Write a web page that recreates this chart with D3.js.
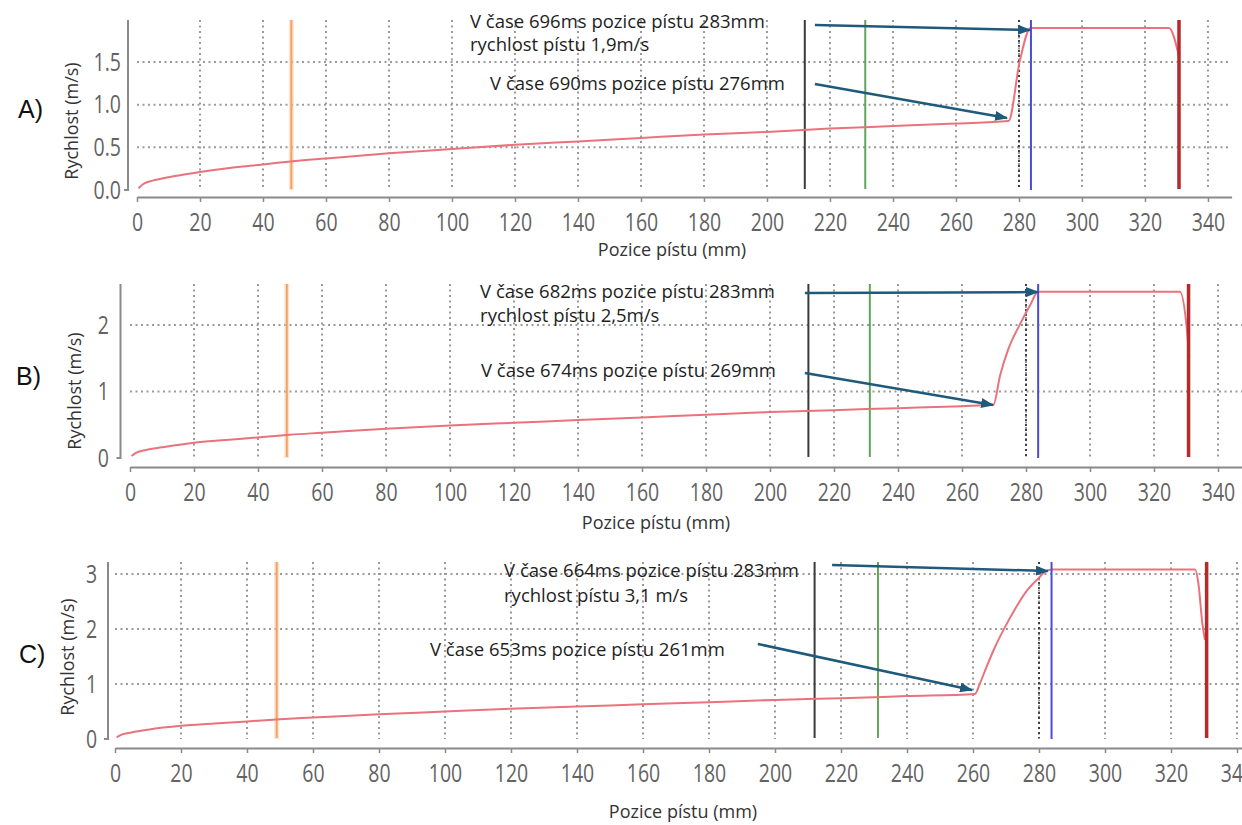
<!DOCTYPE html>
<html>
<head>
<meta charset="utf-8">
<script src="https://cdn.jsdelivr.net/npm/d3@7"></script>
<style>
  body { margin: 0; background: #fff; }
  svg { display: block; }
</style>
</head>
<body>
<svg id="chart" width="1242" height="825"></svg>
<script>
// ---- data (position in mm, velocity in m/s) ----
const xTicks = d3.range(0, 341, 20);

const posA = [0.5, 2, 5, 10, 20, 30, 40, 50, 60, 80, 100, 120, 140, 160, 180, 200, 220, 240, 260, 276.7, 280.3, 283.7, 327.6, 330.9];
const velA = [0.02, 0.07, 0.11, 0.15, 0.21, 0.26, 0.30, 0.34, 0.37, 0.43, 0.48, 0.53, 0.57, 0.61, 0.65, 0.68, 0.72, 0.75, 0.78, 0.81, 1.52, 1.90, 1.90, 1.55];

const posB = [0.5, 2, 5, 10, 20, 30, 40, 50, 60, 80, 100, 120, 140, 160, 180, 200, 220, 240, 260, 269.8, 271.9, 274.5, 278.1, 281.2, 283.8, 328.1, 330.2, 331];
const velB = [0.03, 0.08, 0.12, 0.16, 0.23, 0.27, 0.31, 0.35, 0.38, 0.44, 0.49, 0.53, 0.57, 0.61, 0.65, 0.69, 0.72, 0.75, 0.78, 0.80, 1.24, 1.64, 2.01, 2.29, 2.50, 2.50, 1.97, 1.52];

const posC = [0.5, 2, 5, 10, 20, 30, 40, 50, 60, 80, 100, 120, 140, 160, 180, 200, 220, 240, 260.6, 262.1, 264.1, 266.5, 269.2, 273.2, 276, 279.3, 282.8, 284, 327.3, 328.3, 329.5, 330.3];
const velC = [0.03, 0.08, 0.12, 0.17, 0.24, 0.28, 0.32, 0.36, 0.39, 0.45, 0.50, 0.55, 0.59, 0.63, 0.67, 0.71, 0.74, 0.78, 0.82, 1.01, 1.31, 1.65, 1.98, 2.41, 2.67, 2.89, 3.07, 3.08, 3.08, 2.83, 2.10, 1.80];

const yTicksA = [0, 0.5, 1.0, 1.5];
const yTicksB = [0, 1, 2];
const yTicksC = [0, 1, 2, 3];

// vertical marker lines (mm)
const markerPos = [49, 212, 231.2, 280, 283.8, 330.8];

const notesA = ["V čase 696ms pozice pístu 283mm", "rychlost pístu 1,9m/s", "V čase 690ms pozice pístu 276mm"];
const notesB = ["V čase 682ms pozice pístu 283mm", "rychlost pístu 2,5m/s", "V čase 674ms pozice pístu 269mm"];
const notesC = ["V čase 664ms pozice pístu 283mm", "rychlost pístu 3,1 m/s", "V čase 653ms pozice pístu 261mm"];

// annotation anchors in data units [mm, m/s]
const noteAtA = [[105.7, 1.899], [105.7, 1.625], [112.1, 1.172]];
const noteAtB = [[109.4, 2.406], [109.4, 2.045], [109.7, 1.214]];
const noteAtC = [[117.9, 2.945], [117.9, 2.485], [95.45, 1.51]];

const arrowsA = [[[215.2, 1.934], [283.5, 1.876]], [[215.2, 1.243], [276.2, 0.844]]];
const arrowsB = [[[210.9, 2.481], [283.75, 2.496]], [[210.9, 1.278], [269.7, 0.797]]];
const arrowsC = [[[217.3, 3.164], [282.7, 3.055]], [[194.8, 1.727], [259.7, 0.891]]];

// ---- styles ----
const markerColor = ["#f2a468", "#3a3a3a", "#62a35a", "#333", "#4b4bd6", "#b52a2a"];
const markerWidth = [2, 2, 2, 1.8, 2, 3.5];
const markerDash = [null, null, null, "2,3", null, null];
const markerOnTop = [false, false, false, false, true, true];
const arrowColor = "#1f5a7a";
const curveColor = "#e9737c";
const gridColor = "#9a9a9a";
const axisColor = "#8a8a8a";
const tickColor = "#636363";
const uiFont = "'Open Sans', 'Noto Sans', sans-serif";

const panels = [
  { label: "A)", pos: posA, vel: velA, yTicks: yTicksA, yMax: 1.993, fmt: ".1f",
    notes: notesA, noteAt: noteAtA, arrows: arrowsA,
    left: 137, right: 1231.6, top: 20, bottom: 190, yAxisX: 128, xAxisY: 197, yPad: 9,
    yTitle: [72, 121], xTitle: [672, 256], letter: [18, 118] },
  { label: "B)", pos: posB, vel: velB, yTicks: yTicksB, yMax: 2.617, fmt: "d",
    notes: notesB, noteAt: noteAtB, arrows: arrowsB,
    left: 130, right: 1242, top: 284, bottom: 458, yAxisX: 120.5, xAxisY: 467, yPad: 15,
    yTitle: [75, 391], xTitle: [656, 529], letter: [16, 385] },
  { label: "C)", pos: posC, vel: velC, yTicks: yTicksC, yMax: 3.218, fmt: "d",
    notes: notesC, noteAt: noteAtC, arrows: arrowsC,
    left: 115, right: 1261.75, top: 562, bottom: 739, yAxisX: 108, xAxisY: 748, yPad: 14,
    yTitle: [68, 657], xTitle: [683, 818], letter: [19, 663] }
];

const svg = d3.select("#chart");
svg.append("rect").attr("width", 1242).attr("height", 825).attr("fill", "#fff");

svg.append("defs").append("marker")
  .attr("id", "arrowHead")
  .attr("viewBox", "0 0 13 10")
  .attr("refX", 12).attr("refY", 5)
  .attr("markerWidth", 13).attr("markerHeight", 10)
  .attr("markerUnits", "userSpaceOnUse")
  .attr("orient", "auto")
  .append("path")
  .attr("d", "M0,0 L13,5 L0,10 Z")
  .attr("fill", arrowColor);

panels.forEach((p) => {
  const x = d3.scaleLinear().domain([0, 347.5]).range([p.left, p.right]);
  const y = d3.scaleLinear().domain([0, p.yMax]).range([p.bottom, p.top]);
  const g = svg.append("g");

  // grid
  const grid = g.append("g").attr("stroke", gridColor).attr("stroke-width", 2).attr("stroke-dasharray", "2,3.5");
  grid.selectAll("line.gx")
    .data(xTicks.filter((t) => t > 0))
    .join("line")
    .attr("class", "gx")
    .attr("x1", (d) => x(d)).attr("x2", (d) => x(d))
    .attr("y1", y(p.yMax)).attr("y2", y(0));
  grid.selectAll("line.gy")
    .data(p.yTicks.filter((t) => t > 0))
    .join("line")
    .attr("class", "gy")
    .attr("x1", x(0)).attr("x2", x(347.5))
    .attr("y1", (d) => y(d)).attr("y2", (d) => y(d));

  // marker lines
  const markers = markerPos.map((m, i) => ({ m, i }));
  const drawMarkers = (layer, list) => {
    layer.selectAll("line.halo")
      .data(list.filter((d) => d.i === 0))
      .join("line")
      .attr("class", "halo")
      .attr("x1", (d) => x(d.m)).attr("x2", (d) => x(d.m))
      .attr("y1", y(p.yMax)).attr("y2", y(0))
      .attr("stroke", "#f7c9a0").attr("stroke-width", 5).attr("opacity", 0.5);
    layer.selectAll("line.mk")
      .data(list)
      .join("line")
      .attr("class", "mk")
      .attr("x1", (d) => x(d.m)).attr("x2", (d) => x(d.m))
      .attr("y1", y(p.yMax)).attr("y2", (d) => y(0) - (d.i === 4 ? 0 : 1))
      .attr("stroke", (d) => markerColor[d.i])
      .attr("stroke-width", (d) => markerWidth[d.i])
      .attr("stroke-dasharray", (d) => markerDash[d.i]);
  };
  drawMarkers(g.append("g"), markers.filter((d) => !markerOnTop[d.i]));

  // curve
  const line = d3.line().x((d) => x(d[0])).y((d) => y(d[1])).curve(d3.curveMonotoneX);
  g.append("path")
    .datum(d3.zip(p.pos, p.vel))
    .attr("d", line)
    .attr("fill", "none")
    .attr("stroke", curveColor)
    .attr("stroke-width", 2)
    .attr("stroke-linejoin", "round");

  drawMarkers(g.append("g"), markers.filter((d) => markerOnTop[d.i]));

  // x axis
  const gx = g.append("g").attr("transform", `translate(0,${p.xAxisY})`)
    .call(d3.axisBottom(x).tickValues(xTicks).tickSize(5).tickSizeOuter(0).tickPadding(11));
  gx.select(".domain").attr("stroke", axisColor).attr("stroke-width", 2);
  gx.selectAll(".tick line").attr("stroke", axisColor).attr("stroke-width", 1.5);
  gx.selectAll("text")
    .attr("fill", tickColor)
    .attr("font-family", uiFont)
    .attr("font-size", 25)
    .attr("transform", "scale(0.78,1)");

  // y axis
  const gy = g.append("g").attr("transform", `translate(${p.yAxisX},0)`)
    .call(d3.axisLeft(y).tickValues(p.yTicks).tickFormat(d3.format(p.fmt)).tickSize(0).tickPadding(p.yPad));
  gy.select(".domain").remove();
  gy.append("path")
    .attr("d", `M-4,${y(0)}H0V${y(p.yMax)}`)
    .attr("fill", "none")
    .attr("stroke", axisColor)
    .attr("stroke-width", 2);
  gy.selectAll("text")
    .attr("fill", tickColor)
    .attr("font-family", uiFont)
    .attr("font-size", 25)
    .attr("transform", "scale(0.78,1)");

  // titles
  g.append("text")
    .attr("transform", `translate(${p.yTitle[0]},${p.yTitle[1]}) rotate(-90)`)
    .attr("dy", "0.35em")
    .attr("text-anchor", "middle")
    .attr("font-family", uiFont)
    .attr("font-size", 18)
    .attr("fill", "#333")
    .text("Rychlost (m/s)");
  g.append("text")
    .attr("x", p.xTitle[0]).attr("y", p.xTitle[1])
    .attr("text-anchor", "middle")
    .attr("font-family", uiFont)
    .attr("font-size", 18)
    .attr("fill", "#333")
    .text("Pozice pístu (mm)");
  g.append("text")
    .attr("x", p.letter[0]).attr("y", p.letter[1])
    .attr("font-family", "'Liberation Sans', Arial, sans-serif")
    .attr("font-size", 25)
    .attr("fill", "#111")
    .text(p.label);

  // annotations
  g.selectAll("text.note")
    .data(p.notes)
    .join("text")
    .attr("class", "note")
    .attr("x", (d, i) => x(p.noteAt[i][0]))
    .attr("y", (d, i) => y(p.noteAt[i][1]))
    .attr("font-family", uiFont)
    .attr("font-size", 18.5)
    .attr("fill", "#1e1e1e")
    .text((d) => d);
  g.selectAll("line.arrow")
    .data(p.arrows)
    .join("line")
    .attr("class", "arrow")
    .attr("x1", (d) => x(d[0][0])).attr("y1", (d) => y(d[0][1]))
    .attr("x2", (d) => x(d[1][0])).attr("y2", (d) => y(d[1][1]))
    .attr("stroke", arrowColor)
    .attr("stroke-width", 2.5)
    .attr("marker-end", "url(#arrowHead)");
});
</script>
</body>
</html>
